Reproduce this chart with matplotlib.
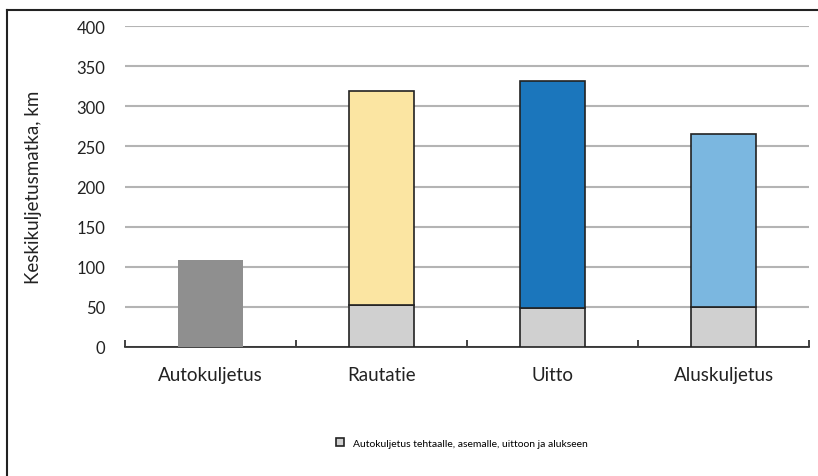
import matplotlib.pyplot as plt
from matplotlib.lines import Line2D
from matplotlib.patches import Patch

categories = ['Autokuljetus', 'Rautatie', 'Uitto', 'Aluskuljetus']
feeder_km = [0, 52, 49, 50]          # autokuljetus tehtaalle, asemalle, uittoon ja alukseen
main_km = [108, 267, 282, 215]        # varsinainen kuljetusmuoto
main_colors = ['#8f8f8f', '#fbe5a2', '#1b76bc', '#7bb7e0']
legend_label = 'Autokuljetus tehtaalle, asemalle, uittoon ja alukseen'
y_ticks = [0, 50, 100, 150, 200, 250, 300, 350, 400]

plt.rcParams['font.family'] = ['Lato', 'DejaVu Sans']

fig = plt.figure(figsize=(8.18, 4.77), dpi=100)
ax = fig.add_axes([125 / 818, 1 - 348 / 477, 684 / 818, 321 / 477])

x = list(range(len(categories)))
width = 0.38
for i in x:
    if feeder_km[i] > 0:
        ax.bar(i, feeder_km[i], width, color='#d0d0d0', edgecolor='#222222', linewidth=1.2, zorder=3)
        ax.bar(i, main_km[i], width, bottom=feeder_km[i], color=main_colors[i],
               edgecolor='#222222', linewidth=1.2, zorder=3)
    else:
        ax.bar(i, main_km[i], width, color=main_colors[i], edgecolor='none', zorder=3)

ax.set_xlim(-0.5, len(categories) - 0.5)
ax.set_ylim(0, 400)
ax.set_yticks(y_ticks)
ax.yaxis.grid(True, color='#b4b4b4', linewidth=1.5, zorder=0)
ax.tick_params(axis='y', length=0, labelsize=12, pad=14, colors='#222222')

ax.set_xticks(x)
ax.set_xticklabels(categories, fontsize=13.5, color='#222222')
ax.set_xticks([i - 0.5 for i in range(len(categories) + 1)], minor=True)
ax.tick_params(axis='x', which='major', length=0, pad=14)
ax.tick_params(axis='x', which='minor', length=5, width=1.2, direction='in', colors='#222222')

for side in ['top', 'right', 'left']:
    ax.spines[side].set_visible(False)
ax.spines['bottom'].set_color('#222222')
ax.spines['bottom'].set_linewidth(1.2)

ax.set_ylabel('Keskikuljetusmatka, km', fontsize=13.5, labelpad=25, color='#222222')

# outer frame: only left and top edges
fig.add_artist(Line2D([7 / 818, 7 / 818], [0, 1 - 11 / 477], color='#222222', linewidth=1.5))
fig.add_artist(Line2D([7 / 818, 1], [1 - 11 / 477, 1 - 11 / 477], color='#222222', linewidth=1.5))

handle = Patch(facecolor='#d0d0d0', edgecolor='#222222', linewidth=1.2)
fig.legend([handle], [legend_label], loc='center', bbox_to_anchor=(462 / 818, 1 - 444 / 477),
           frameon=False, fontsize=7.5, handlelength=0.7, handleheight=0.7, handletextpad=0.9)

fig.savefig('out.png', dpi=100)
